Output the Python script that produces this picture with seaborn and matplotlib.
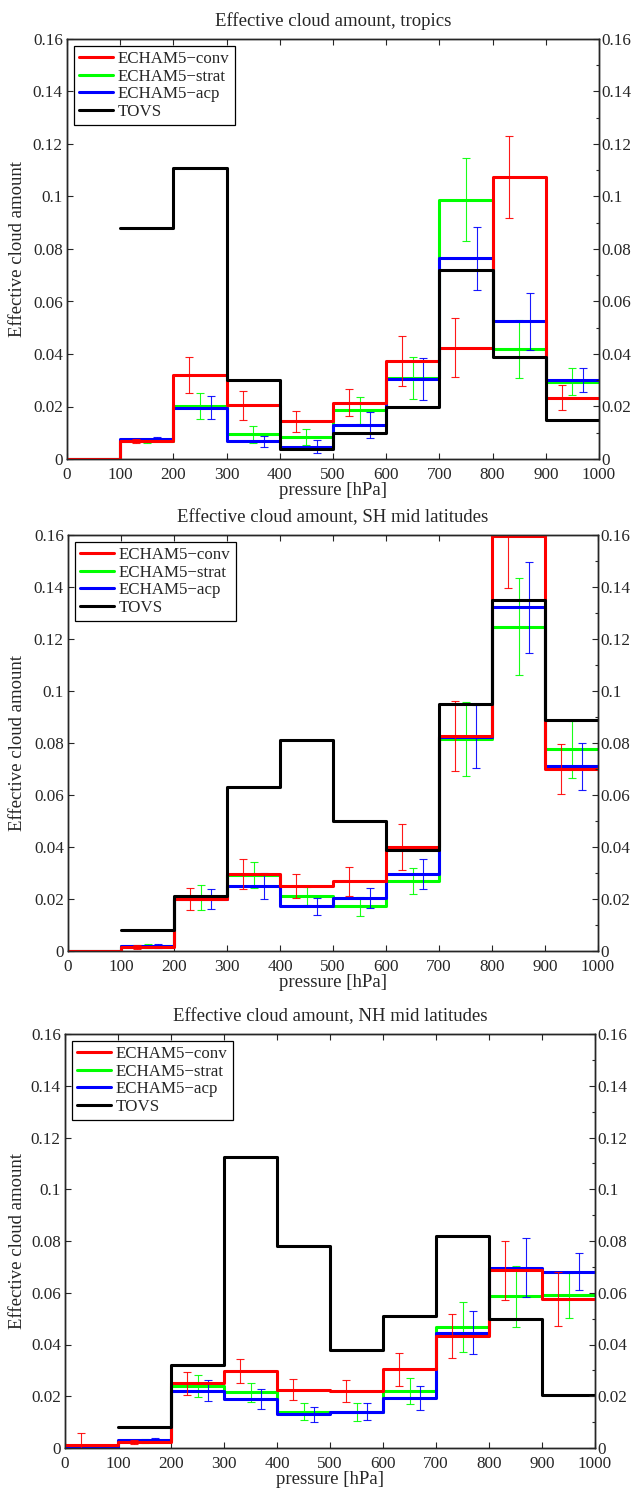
import numpy as np
import pandas as pd
import matplotlib
matplotlib.use("Agg")
import matplotlib.pyplot as plt
from matplotlib.ticker import MultipleLocator, FuncFormatter
import seaborn as sns

# ---------------- data ----------------
bin_edges = [0, 100, 200, 300, 400, 500, 600, 700, 800, 900, 1000]
series_labels = ["ECHAM5\u2212conv", "ECHAM5\u2212strat", "ECHAM5\u2212acp", "TOVS"]
panel_titles = ["Effective cloud amount, tropics",
                "Effective cloud amount, SH mid latitudes",
                "Effective cloud amount, NH mid latitudes"]
x_label = "pressure [hPa]"
y_label = "Effective cloud amount"
nan = np.nan

# tropics
trop_conv = [0.0, 0.0068, 0.0320, 0.0205, 0.0144, 0.0215, 0.0374, 0.0424, 0.1074, 0.0234]
trop_strat = [0.0, 0.0070, 0.0203, 0.0094, 0.0084, 0.0185, 0.0310, 0.0988, 0.0420, 0.0295]
trop_acp = [0.0, 0.0075, 0.0196, 0.0067, 0.0047, 0.0130, 0.0304, 0.0765, 0.0524, 0.0301]
trop_tovs = [nan, 0.088, 0.111, 0.030, 0.004, 0.010, 0.020, 0.072, 0.039, 0.015]
trop_conv_err = [nan, 0.0008, 0.0070, 0.0055, 0.0040, 0.0052, 0.0095, 0.0113, 0.0155, 0.0046]
trop_strat_err = [nan, 0.0008, 0.0050, 0.0033, 0.0030, 0.0050, 0.0080, 0.0158, 0.0110, 0.0050]
trop_acp_err = [nan, 0.0008, 0.0043, 0.0022, 0.0025, 0.0050, 0.0080, 0.0120, 0.0108, 0.0047]

# SH mid latitudes
sh_conv = [0.0, 0.0015, 0.0200, 0.0295, 0.0250, 0.0268, 0.0400, 0.0827, 0.1595, 0.0700]
sh_strat = [0.0, 0.0018, 0.0205, 0.0292, 0.0213, 0.0172, 0.0270, 0.0815, 0.1248, 0.0776]
sh_acp = [0.0, 0.0020, 0.0200, 0.0249, 0.0172, 0.0204, 0.0296, 0.0825, 0.1322, 0.0710]
sh_tovs = [nan, 0.008, 0.021, 0.063, 0.081, 0.050, 0.039, 0.095, 0.135, 0.089]
sh_conv_err = [nan, 0.0008, 0.0044, 0.0057, 0.0045, 0.0055, 0.0087, 0.0134, 0.0200, 0.0097]
sh_strat_err = [nan, 0.0008, 0.0048, 0.0050, 0.0035, 0.0036, 0.0050, 0.0142, 0.0188, 0.0110]
sh_acp_err = [nan, 0.0008, 0.0040, 0.0050, 0.0033, 0.0040, 0.0056, 0.0123, 0.0175, 0.0090]

# NH mid latitudes
nh_conv = [0.0013, 0.0022, 0.0250, 0.0298, 0.0225, 0.0221, 0.0304, 0.0432, 0.0686, 0.0575]
nh_strat = [0.0005, 0.0027, 0.0240, 0.0216, 0.0141, 0.0139, 0.0221, 0.0468, 0.0586, 0.0590]
nh_acp = [0.0004, 0.0030, 0.0222, 0.0189, 0.0130, 0.0141, 0.0192, 0.0445, 0.0697, 0.0681]
nh_tovs = [nan, 0.008, 0.032, 0.1123, 0.078, 0.038, 0.0512, 0.0819, 0.0499, 0.0205]
nh_conv_err = [0.0045, 0.0008, 0.0044, 0.0045, 0.0040, 0.0042, 0.0064, 0.0085, 0.0115, 0.0105]
nh_strat_err = [0.0003, 0.0008, 0.0042, 0.0037, 0.0031, 0.0033, 0.0050, 0.0096, 0.0118, 0.0087]
nh_acp_err = [0.0003, 0.0008, 0.0042, 0.0040, 0.0030, 0.0033, 0.0046, 0.0083, 0.0114, 0.0072]

panels = [
    dict(title=panel_titles[0], values=[trop_conv, trop_strat, trop_acp, trop_tovs],
         errors=[trop_conv_err, trop_strat_err, trop_acp_err]),
    dict(title=panel_titles[1], values=[sh_conv, sh_strat, sh_acp, sh_tovs],
         errors=[sh_conv_err, sh_strat_err, sh_acp_err]),
    dict(title=panel_titles[2], values=[nh_conv, nh_strat, nh_acp, nh_tovs],
         errors=[nh_conv_err, nh_strat_err, nh_acp_err]),
]

# ---------------- style ----------------
colors = ["#ff0000", "#00ff00", "#0000ff", "#000000"]
zorders = [4, 2, 3, 5]
err_offsets = [-20, 0, 20]
# axes boxes in pixels: left, right, top, bottom
boxes = [(67, 599, 39, 459), (68, 598, 535, 951), (65, 595, 1034, 1448)]
W, H = 635, 1488

sns.set_style("ticks")
plt.rcParams["font.family"] = ["Liberation Serif", "DejaVu Serif"]
FS_TICK = 12.3
FS_LAB = 13.5
FS_LEG = 12.2

fig = plt.figure(figsize=(W / 100, H / 100), dpi=100)
fmt = FuncFormatter(lambda v, p: "%g" % round(v, 4))
edges = np.array(bin_edges, dtype=float)
centers = (edges[:-1] + edges[1:]) / 2

for pan, (l, r, t, b) in zip(panels, boxes):
    ax = fig.add_axes([l / W, 1 - b / H, (r - l) / W, (b - t) / H])
    for i, vals in enumerate(pan["values"]):
        df = pd.DataFrame({"p": edges, "v": list(vals) + [vals[-1]]})
        sns.lineplot(data=df, x="p", y="v", drawstyle="steps-post", color=colors[i],
                     lw=2.2, ax=ax, estimator=None, sort=False, zorder=zorders[i],
                     label=series_labels[i])
    for i, errs in enumerate(pan["errors"]):
        ax.errorbar(centers + err_offsets[i], pan["values"][i], yerr=errs, fmt="none",
                    ecolor=colors[i], elinewidth=0.8, capsize=3.2, capthick=0.8,
                    zorder=zorders[i] + 0.5, alpha=0.9)
    h_by_label = {ln.get_label(): ln for ln in ax.get_lines()}
    leg_handles = [h_by_label[s] for s in series_labels]
    ax.legend(leg_handles, series_labels, loc="upper left", fontsize=FS_LEG,
              frameon=True, fancybox=False, edgecolor="black", framealpha=1,
              handlelength=2.0, handletextpad=0.3, labelspacing=0.1,
              borderpad=0.3, borderaxespad=0.4)
    ax.get_legend().get_frame().set_linewidth(0.9)

    ax.set_xlim(0, 1000)
    ax.set_ylim(0, 0.16)
    ax.xaxis.set_major_locator(MultipleLocator(100))
    ax.yaxis.set_major_locator(MultipleLocator(0.02))
    ax.yaxis.set_major_formatter(fmt)
    ax.tick_params(axis="both", direction="in", labelsize=FS_TICK, length=4, width=0.8,
                   top=True, right=False)
    ax.tick_params(axis="x", pad=6)
    ax.tick_params(axis="y", pad=3)
    for s in ax.spines.values():
        s.set_linewidth(1.0)
        s.set_color("black")
    ax.set_xlabel(x_label, fontsize=FS_LAB)
    ax.set_ylabel(y_label, fontsize=FS_LAB)
    ax.xaxis.set_label_coords(0.5, -23 / (b - t))
    ax.yaxis.set_label_coords(-(l - 26) / (r - l), 0.5)
    ax.set_title(pan["title"], fontsize=FS_LAB, pad=9)

    ax2 = ax.twinx()
    ax2.set_ylim(0, 0.16)
    ax2.yaxis.set_major_locator(MultipleLocator(0.02))
    ax2.yaxis.set_minor_locator(MultipleLocator(0.01))
    ax2.yaxis.set_major_formatter(fmt)
    ax2.tick_params(axis="y", which="major", direction="in", labelsize=FS_TICK, length=4,
                    width=0.8, pad=2)
    ax2.tick_params(axis="y", which="minor", direction="in", length=2.5, width=0.8)
    for s in ax2.spines.values():
        s.set_linewidth(1.0)
    ax2.grid(False)

fig.savefig("out.png", dpi=100)
